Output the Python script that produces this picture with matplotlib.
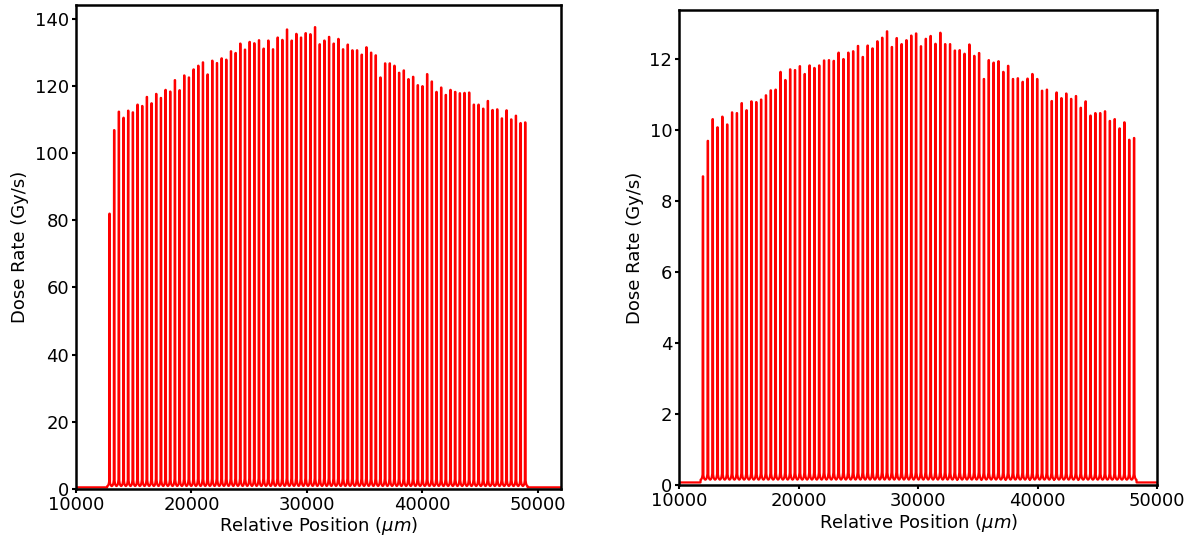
import numpy as np
import matplotlib
matplotlib.use("Agg")
import matplotlib.pyplot as plt

# ---------------- data ----------------
# Left panel: peak dose rates (Gy/s) of the 90 microbeams
left_first_peak = 12900.0   # um
left_pitch = 404.5          # um
left_peaks = [
    82.0, 106.9, 112.4, 110.6, 112.7, 112.2, 114.5, 114.1, 116.8, 114.9,
    117.7, 116.5, 118.9, 118.4, 121.8, 118.8, 123.2, 122.6, 125.0, 126.1,
    127.1, 123.5, 127.6, 126.9, 128.3, 127.9, 130.4, 129.9, 132.7, 130.9,
    133.2, 132.8, 133.7, 131.2, 133.6, 131.0, 134.5, 133.8, 136.9, 133.6,
    135.6, 134.5, 135.8, 135.5, 137.6, 132.5, 133.6, 134.7, 132.7, 134.1,
    131.0, 132.4, 130.7, 130.7, 129.4, 131.6, 130.0, 129.2, 122.6, 126.8,
    126.8, 126.1, 124.0, 124.7, 122.1, 122.8, 120.3, 120.0, 123.6, 121.4,
    118.3, 119.6, 117.4, 118.9, 118.3, 117.9, 118.0, 118.1, 114.5, 114.5,
    113.3, 115.6, 112.9, 113.1, 110.4, 112.8, 110.1, 111.2, 109.0, 109.2,
]
left_valley = 0.7
left_outside = 0.4

# Right panel
right_first_peak = 11980.0  # um
right_pitch = 405.6         # um
right_peaks = [
    8.69, 9.69, 10.30, 10.07, 10.37, 10.15, 10.49, 10.47, 10.75, 10.55,
    10.80, 10.78, 10.85, 10.97, 11.11, 11.13, 11.63, 11.40, 11.70, 11.68,
    11.79, 11.57, 11.81, 11.74, 11.81, 11.95, 11.96, 11.94, 12.17, 11.99,
    12.17, 12.21, 12.36, 12.05, 12.37, 12.29, 12.49, 12.59, 12.77, 12.33,
    12.58, 12.41, 12.52, 12.65, 12.71, 12.35, 12.56, 12.64, 12.42, 12.73,
    12.41, 12.41, 12.23, 12.24, 12.14, 12.40, 12.08, 12.16, 11.43, 11.96,
    11.89, 11.93, 11.63, 11.80, 11.43, 11.45, 11.35, 11.44, 11.57, 11.43,
    11.10, 11.13, 10.81, 11.05, 10.89, 11.02, 10.87, 10.95, 10.62, 10.80,
    10.40, 10.47, 10.47, 10.52, 10.25, 10.30, 10.04, 10.21, 9.72, 9.77,
]
right_valley = 0.15
right_outside = 0.08

x_start = 10000.0
left_x_end = 52000.0
right_x_end = 50000.0
beam_width = 50.0  # um, flat-top width of each microbeam


def profile(x, first, pitch, peaks, valley, outside):
    centers = first + pitch * np.arange(len(peaks))
    y = np.full_like(x, outside)
    inside = (x > centers[0] - pitch / 2) & (x < centers[-1] + pitch / 2)
    y[inside] = valley
    base = y.copy()
    for c, h in zip(centers, peaks):
        d = np.abs(x - c)
        near = d < pitch / 2
        top = np.clip((beam_width / 2 + 6 - d) / 12, 0, 1)
        edge = np.clip(d - beam_width / 2, 0, None)
        tail = np.where(top < 1, 0.02 * np.exp(-edge / 55), 0.0)
        spike = base + (h - base) * top + h * tail * (1 - top)
        y = np.where(near, np.maximum(y, spike), y)
    return y


xl = np.arange(x_start, left_x_end, 2.0)
yl = profile(xl, left_first_peak, left_pitch, left_peaks, left_valley, left_outside)
xr = np.arange(x_start, right_x_end, 2.0)
yr = profile(xr, right_first_peak, right_pitch, right_peaks, right_valley, right_outside)

# ---------------- figure ----------------
W, H = 1197, 543
fig = plt.figure(figsize=(W / 100, H / 100), dpi=100)

ax1 = fig.add_axes([76 / W, (H - 488.7) / H, (561 - 76) / W, (488.7 - 5) / H])
ax2 = fig.add_axes([679.3 / W, (H - 485.3) / H, (1157 - 679.3) / W, (485.3 - 10) / H])

for ax, x, y, xe in ((ax1, xl, yl, left_x_end), (ax2, xr, yr, right_x_end)):
    ax.plot(x, y, color="red", linewidth=1.6)
    ax.set_xlim(x_start, xe)
    ax.set_xlabel(r"Relative Position ($\mu m$)", fontsize=13, labelpad=1)
    ax.set_ylabel("Dose Rate (Gy/s)", fontsize=13)
    ax.tick_params(labelsize=13, length=3, width=1.5, pad=2)
    for s in ax.spines.values():
        s.set_linewidth(1.8)

ax1.set_ylim(0, 144.2)
ax1.set_yticks(np.arange(0, 141, 20))
ax1.set_xticks([10000, 20000, 30000, 40000, 50000])
ax2.set_ylim(0, 13.37)
ax2.set_yticks(np.arange(0, 13, 2))
ax2.set_xticks([10000, 20000, 30000, 40000, 50000])

fig.savefig("out.png", dpi=100)
